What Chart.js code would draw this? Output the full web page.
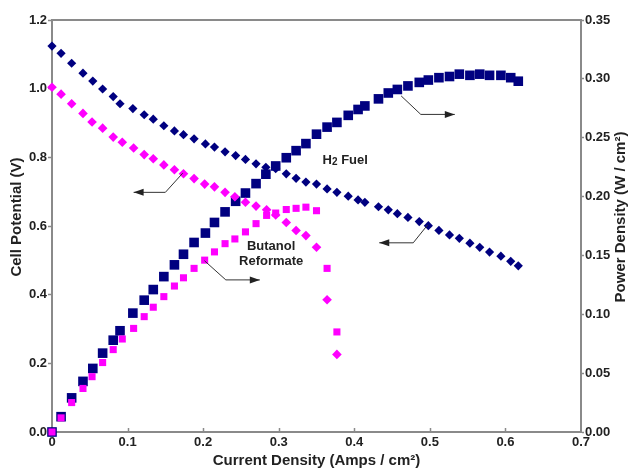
<!DOCTYPE html>
<html>
<head>
<meta charset="utf-8">
<script src="https://cdn.jsdelivr.net/npm/chart.js@4/dist/chart.umd.min.js"></script>
<style>
  html, body { margin: 0; padding: 0; background: #fff; }
  #wrap { width: 631px; height: 470px; }
</style>
</head>
<body>
<div id="wrap"><canvas id="c" width="631" height="470"></canvas></div>
<script>
// ---- Data ----
const h2Current = [0, 0.012, 0.026, 0.041, 0.054, 0.067, 0.081, 0.090, 0.107, 0.122, 0.134, 0.148, 0.162, 0.174, 0.188, 0.203, 0.215, 0.229, 0.243, 0.256, 0.270, 0.283, 0.296, 0.310, 0.323, 0.336, 0.350, 0.364, 0.377, 0.392, 0.405, 0.414, 0.432, 0.445, 0.457, 0.471, 0.486, 0.498, 0.512, 0.526, 0.539, 0.553, 0.566, 0.579, 0.594, 0.607, 0.617];
const h2Voltage = [1.124, 1.103, 1.074, 1.045, 1.022, 0.999, 0.977, 0.956, 0.942, 0.924, 0.911, 0.892, 0.877, 0.866, 0.854, 0.839, 0.830, 0.816, 0.805, 0.794, 0.781, 0.771, 0.767, 0.752, 0.739, 0.728, 0.722, 0.708, 0.698, 0.687, 0.676, 0.669, 0.656, 0.647, 0.636, 0.625, 0.613, 0.601, 0.587, 0.574, 0.564, 0.550, 0.538, 0.524, 0.512, 0.497, 0.484];
const h2Power = [0, 0.013, 0.029, 0.043, 0.054, 0.067, 0.078, 0.086, 0.101, 0.112, 0.121, 0.132, 0.142, 0.151, 0.161, 0.169, 0.178, 0.187, 0.196, 0.203, 0.211, 0.219, 0.226, 0.233, 0.239, 0.245, 0.253, 0.259, 0.263, 0.269, 0.274, 0.277, 0.283, 0.288, 0.291, 0.294, 0.297, 0.299, 0.301, 0.302, 0.304, 0.303, 0.304, 0.303, 0.303, 0.301, 0.298];

const buCurrent = [0, 0.012, 0.026, 0.041, 0.053, 0.067, 0.081, 0.093, 0.108, 0.122, 0.134, 0.148, 0.162, 0.174, 0.188, 0.202, 0.215, 0.229, 0.242, 0.256, 0.270, 0.284, 0.296, 0.310, 0.323, 0.336, 0.350, 0.364, 0.377];
const buVoltage = [1.004, 0.984, 0.956, 0.928, 0.903, 0.885, 0.859, 0.844, 0.827, 0.808, 0.796, 0.778, 0.764, 0.752, 0.738, 0.722, 0.714, 0.698, 0.685, 0.669, 0.658, 0.647, 0.632, 0.610, 0.587, 0.572, 0.538, 0.385, 0.226];
const buPower = [0, 0.012, 0.025, 0.037, 0.047, 0.059, 0.070, 0.079, 0.088, 0.098, 0.106, 0.115, 0.124, 0.131, 0.139, 0.146, 0.153, 0.160, 0.164, 0.170, 0.177, 0.184, 0.186, 0.189, 0.190, 0.191, 0.188, 0.139, 0.085];

const xTicks = [0, 0.1, 0.2, 0.3, 0.4, 0.5, 0.6, 0.7];
const yLeftTicks = [0, 0.2, 0.4, 0.6, 0.8, 1.0, 1.2];
const yRightTicks = [0, 0.05, 0.10, 0.15, 0.20, 0.25, 0.30, 0.35];

const xTitle = 'Current Density (Amps / cm²)';
const yLeftTitle = 'Cell Potential (V)';
const yRightTitle = 'Power Density (W / cm²)';

// Annotation arrows (data coords on x / left y axis): start on curve, elbow, tip
const arrows = [
  [[0.173, 0.754], [0.150, 0.698], [0.108, 0.698]],
  [[0.462, 0.979], [0.488, 0.925], [0.533, 0.925]],
  [[0.497, 0.603], [0.478, 0.551], [0.433, 0.551]],
  [[0.2017, 0.499], [0.230, 0.443], [0.275, 0.443]]
];
const labelH2 = { x: 0.388, y: 0.792 };
const labelBu = [{ text: 'Butanol', x: 0.290, y: 0.540 }, { text: 'Reformate', x: 0.290, y: 0.496 }];

const NAVY = '#000080';
const MAG = '#ff00ff';
const FONT = "Arial, 'Liberation Sans', sans-serif";
const TXT = '#222222';
const AXIS = '#8a8a8a';

const pts = (xs, ys) => xs.map((x, i) => ({ x: x, y: ys[i] }));

const decor = {
  id: 'decor',
  afterDraw(chart) {
    const ctx = chart.ctx;
    const xs = chart.scales.x, ys = chart.scales.y;
    const ca = chart.chartArea;
    ctx.save();
    // top frame line
    ctx.strokeStyle = AXIS;
    ctx.lineWidth = 2;
    ctx.beginPath();
    ctx.moveTo(ca.left - 1, ca.top);
    ctx.lineTo(ca.right + 1, ca.top);
    ctx.stroke();
    // inward x ticks
    ctx.lineWidth = 1.5;
    xTicks.forEach(v => {
      if (v === 0 || v === 0.7) return;
      const px = Math.round(xs.getPixelForValue(v)) + 0.5;
      ctx.beginPath();
      ctx.moveTo(px, ca.bottom);
      ctx.lineTo(px, ca.bottom - 4);
      ctx.stroke();
    });
    // arrows
    ctx.strokeStyle = '#333';
    ctx.fillStyle = '#222';
    ctx.lineWidth = 1;
    arrows.forEach(a => {
      const p = a.map(q => [xs.getPixelForValue(q[0]), ys.getPixelForValue(q[1])]);
      ctx.beginPath();
      ctx.moveTo(p[0][0], p[0][1]);
      ctx.lineTo(p[1][0], p[1][1]);
      ctx.lineTo(p[2][0], p[2][1]);
      ctx.stroke();
      const dir = Math.sign(p[2][0] - p[1][0]);
      const tx = p[2][0], ty = p[2][1];
      ctx.beginPath();
      ctx.moveTo(tx, ty);
      ctx.lineTo(tx - dir * 10, ty - 3.5);
      ctx.lineTo(tx - dir * 10, ty + 3.5);
      ctx.closePath();
      ctx.fill();
    });
    // labels
    ctx.fillStyle = TXT;
    ctx.textBaseline = 'middle';
    ctx.textAlign = 'left';
    const hx = xs.getPixelForValue(labelH2.x), hy = ys.getPixelForValue(labelH2.y);
    ctx.font = 'bold 13px ' + FONT;
    const wH = ctx.measureText('H').width;
    ctx.font = 'bold 10px ' + FONT;
    const w2 = ctx.measureText('2').width;
    ctx.font = 'bold 13px ' + FONT;
    const wF = ctx.measureText(' Fuel').width;
    let sx = hx - (wH + w2 + wF) / 2;
    ctx.fillText('H', sx, hy);
    ctx.font = 'bold 10px ' + FONT;
    ctx.fillText('2', sx + wH, hy + 2);
    ctx.font = 'bold 13px ' + FONT;
    ctx.fillText(' Fuel', sx + wH + w2, hy);
    ctx.textAlign = 'center';
    labelBu.forEach(l => {
      ctx.fillText(l.text, xs.getPixelForValue(l.x), ys.getPixelForValue(l.y));
    });
    // vertical axis titles (both read bottom-to-top)
    ctx.font = 'bold 15px ' + FONT;
    const midY = (ca.top + ca.bottom) / 2 - 9;
    [[17, yLeftTitle], [chart.width - 10, yRightTitle]].forEach(([tx, t]) => {
      ctx.save();
      ctx.translate(tx, midY);
      ctx.rotate(-Math.PI / 2);
      ctx.fillText(t, 0, 0);
      ctx.restore();
    });
    ctx.restore();
  }
};

new Chart(document.getElementById('c'), {
  type: 'scatter',
  data: {
    datasets: [
      { label: 'Butanol power', data: pts(buCurrent, buPower), yAxisID: 'y2', pointStyle: 'rect', pointRadius: 5, backgroundColor: MAG, borderWidth: 0, clip: false },
      { label: 'Butanol voltage', data: pts(buCurrent, buVoltage), yAxisID: 'y', pointStyle: 'rectRot', pointRadius: 4.8, backgroundColor: MAG, borderWidth: 0, clip: false },
      { label: 'H2 power', data: pts(h2Current, h2Power), yAxisID: 'y2', pointStyle: 'rect', pointRadius: 6.8, backgroundColor: NAVY, borderWidth: 0, clip: false },
      { label: 'H2 voltage', data: pts(h2Current, h2Voltage), yAxisID: 'y', pointStyle: 'rectRot', pointRadius: 4.6, backgroundColor: NAVY, borderWidth: 0, clip: false }
    ]
  },
  options: {
    responsive: false,
    animation: false,
    events: [],
    layout: { padding: { top: 20, left: 0, right: 0, bottom: 0 } },
    plugins: { legend: { display: false }, tooltip: { enabled: false } },
    scales: {
      x: {
        type: 'linear', min: 0, max: 0.7,
        afterBuildTicks: s => { s.ticks = xTicks.map(v => ({ value: v })); },
        afterFit: s => { s.height = 38; },
        ticks: { padding: 3, color: TXT, font: { family: FONT, size: 13, weight: 'bold' }, maxRotation: 0,
          callback: v => (v === 0 ? '0' : v.toFixed(1)) },
        grid: { display: false, drawTicks: false },
        border: { display: true, color: AXIS, width: 2 },
        title: { display: true, text: xTitle, color: TXT, padding: { top: 0, bottom: 0 },
          font: { family: FONT, size: 15, weight: 'bold' } }
      },
      y: {
        type: 'linear', position: 'left', min: 0, max: 1.2,
        afterBuildTicks: s => { s.ticks = yLeftTicks.map(v => ({ value: v })); },
        afterFit: s => { s.width = 52; },
        ticks: { padding: 1, color: TXT, font: { family: FONT, size: 13, weight: 'bold' },
          callback: v => v.toFixed(1) },
        grid: { drawOnChartArea: false, drawTicks: true, tickLength: 4, tickColor: AXIS, tickWidth: 1.5 },
        border: { display: true, color: AXIS, width: 2 },
        title: { display: false }
      },
      y2: {
        type: 'linear', position: 'right', min: 0, max: 0.35,
        afterBuildTicks: s => { s.ticks = yRightTicks.map(v => ({ value: v })); },
        afterFit: s => { s.width = 50; },
        ticks: { padding: 1, color: TXT, font: { family: FONT, size: 13, weight: 'bold' },
          callback: v => v.toFixed(2) },
        grid: { drawOnChartArea: false, drawTicks: true, tickLength: 3, tickColor: AXIS, tickWidth: 1.5 },
        border: { display: true, color: AXIS, width: 2 },
        title: { display: false }
      }
    }
  },
  plugins: [decor]
});
</script>
</body>
</html>
